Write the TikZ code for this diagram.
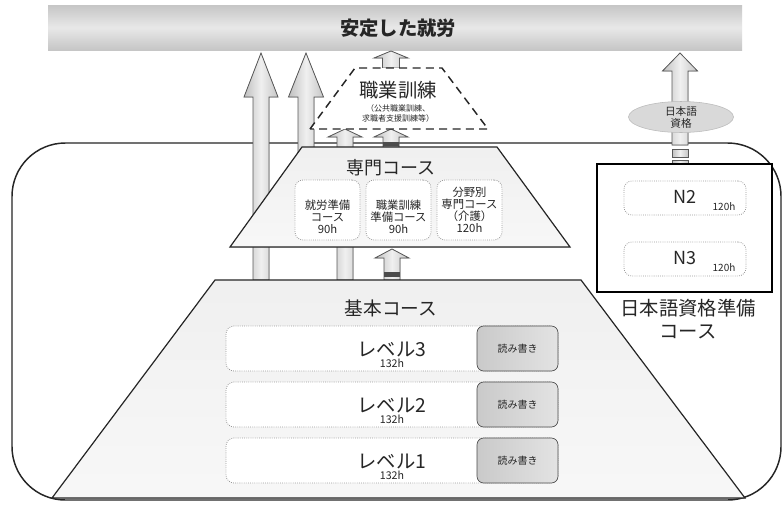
\documentclass[tikz,border=0pt]{standalone}
\usepackage{fontspec}
\setmainfont{Noto Sans CJK JP}
\usetikzlibrary{shapes.geometric}
\newcommand{\upblk}[6]{% cx, ybot, ytip, shaft hw, head hw, head len
  \filldraw[blkarrow] ({#1-#4},#2) -- ({#1-#4},{#3+#6}) -- ({#1-#5},{#3+#6}) -- (#1,#3) -- ({#1+#5},{#3+#6}) -- ({#1+#4},{#3+#6}) -- ({#1+#4},#2) -- cycle;}
\begin{document}
\begin{tikzpicture}[x=0.75pt,y=-0.75pt,
  blkarrow/.style={draw=gray!70!black, line width=0.6pt, left color=gray!50, right color=gray!45, middle color=gray!12},
  trap/.style={draw=gray!30!black, line width=0.9pt, top color=gray!12, bottom color=gray!6},
  dotbox/.style={draw=gray!80, densely dotted, line width=0.6pt, rounded corners=6pt, fill=white},
  graybox/.style={draw=gray!60!black, line width=0.5pt, rounded corners=5pt, left color=gray!42, right color=gray!22},
  txt/.style={inner sep=0pt, align=center, text=black!85},
]
\useasboundingbox (0,0) rectangle (784,504);
\fill[white] (0,0) rectangle (784,504);

% outer rounded frame
\draw[gray!30!black, line width=1.1pt, fill=white, rounded corners=40pt] (12,143) rectangle (781,500);

% top banner
\shade[top color=gray!45, bottom color=gray!45, middle color=gray!18] (48,5) rectangle (742,50);
\node[txt, font=\fontsize{14.5}{16}\selectfont\bfseries] (goal) at (398,28) {安定した就労};

% long arrows
\upblk{261}{280}{53}{8}{17}{44}
\upblk{306}{240}{53}{8}{17.5}{44}
\upblk{345}{280}{129}{8}{17}{8}
\upblk{392}{280}{249}{8}{17}{9}
\fill[gray!60!black] (384,272) rectangle (400,277);
\upblk{391}{147}{129}{8}{17}{8}
\fill[gray!60!black] (383,142) rectangle (399,146);
\upblk{391}{68}{51}{8.5}{17}{7}

% right arrow
\upblk{680}{145}{53}{8}{17.5}{18}
\filldraw[blkarrow] (672,149) rectangle (688,157);
\filldraw[blkarrow] (672,160) rectangle (688,164);
\node[ellipse, draw=gray!55, fill=gray!30, minimum width=78.75pt, minimum height=23.25pt, inner sep=0pt] (qual) at (681,117) {};
\node[txt, font=\fontsize{8}{9}\selectfont] at (681,117) {日本語\\資格};

% vocational training (dashed)
\filldraw[draw=gray!30!black, fill=white, line width=1.1pt, dash pattern=on 6pt off 4pt] (310,129) -- (355,68) -- (442,68) -- (488,129) -- cycle;
\node[txt, font=\fontsize{14.5}{16}\selectfont] (voc) at (398,90) {職業訓練};
\node[txt, font=\fontsize{6}{7.5}\selectfont] at (398,113) {（公共職業訓練、\\求職者支援訓練等）};

% specialised course
\filldraw[trap] (230,247) -- (302,147) -- (497,147) -- (570,247) -- cycle;
\node[txt, font=\fontsize{13.5}{16}\selectfont] (spec) at (391,168) {専門コース};
\node[dotbox, minimum width=48.75pt, minimum height=45pt] (s1) at (327.5,210) {};
\node[dotbox, minimum width=48.75pt, minimum height=45pt] (s2) at (398.5,210) {};
\node[dotbox, minimum width=48.75pt, minimum height=45pt] (s3) at (469.5,210) {};
\node[txt, font=\fontsize{8.5}{9.2}\selectfont] at (327.5,217) {就労準備\\コース\\90h};
\node[txt, font=\fontsize{8.5}{9.2}\selectfont] at (398.5,217) {職業訓練\\準備コース\\90h};
\node[txt, font=\fontsize{8.5}{9.2}\selectfont] at (469.5,210) {分野別\\専門コース\\（介護）\\120h};

% basic course
\filldraw[trap] (52,498) -- (215,280) -- (581,280) -- (745,498) -- cycle;
\node[txt, font=\fontsize{14}{16}\selectfont] (basic) at (391,308) {基本コース};
\foreach \lv/\yc in {3/348.5, 2/404.5, 1/460.5}{
  \node[dotbox, minimum width=249pt, minimum height=33.75pt] (lv\lv) at (392,\yc) {};
  \node[graybox, minimum width=60.75pt, minimum height=33.75pt] (rw\lv) at (517.5,\yc) {};
  \node[txt, font=\fontsize{7.5}{9}\selectfont] at (517.5,\yc) {読み書き};
  \node[txt, font=\fontsize{14.5}{16}\selectfont] at (392,{\yc+1}) {レベル\lv};
  \node[txt, font=\fontsize{8}{9}\selectfont] at (392,{\yc+15}) {132h};
}

% Japanese qualification course
\node[draw=black, line width=1.6pt, fill=white, minimum width=131.25pt, minimum height=96pt, inner sep=0pt] (jbox) at (684.5,228) {};
\node[dotbox, minimum width=91.5pt, minimum height=25.5pt] (n2) at (685,198) {};
\node[dotbox, minimum width=91.5pt, minimum height=25.5pt] (n3) at (685,259) {};
\node[txt, font=\fontsize{13.5}{16}\selectfont] at (685,197) {N2};
\node[txt, font=\fontsize{7.5}{9}\selectfont] at (724,207) {120h};
\node[txt, font=\fontsize{13.5}{16}\selectfont] at (685,258) {N3};
\node[txt, font=\fontsize{7.5}{9}\selectfont] at (724,268) {120h};
\node[txt, font=\fontsize{14.5}{17.5}\selectfont] (jlabel) at (688,319) {日本語資格準備\\コース};
\end{tikzpicture}
\end{document}
